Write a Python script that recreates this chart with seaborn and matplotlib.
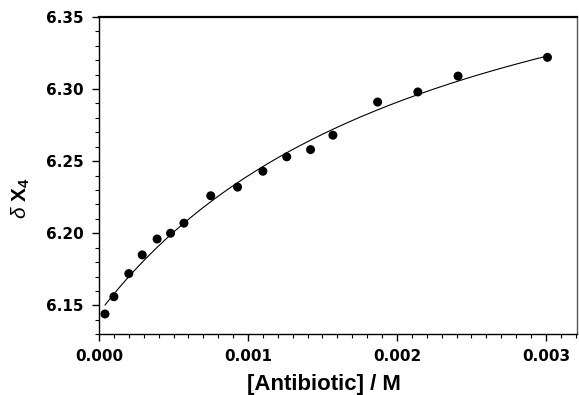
import numpy as np
import pandas as pd
import seaborn as sns
import matplotlib.pyplot as plt
from matplotlib.ticker import MultipleLocator, FormatStrFormatter

sns.set_style("ticks")
plt.rcParams['font.family'] = ['DejaVu Sans']
plt.rcParams['mathtext.fontset'] = 'custom'
plt.rcParams['mathtext.rm'] = 'Liberation Sans'
plt.rcParams['mathtext.bf'] = 'Liberation Sans:bold'
plt.rcParams['mathtext.it'] = 'Liberation Sans:italic'

# ============================================
# DATA
# ============================================
conc = [0.00004, 0.00010, 0.00020, 0.00029, 0.00039, 0.00048, 0.00057,
        0.00075, 0.00093, 0.00110, 0.00126, 0.00142, 0.00157, 0.00187,
        0.00214, 0.00241, 0.00301]
shift = [6.144, 6.156, 6.172, 6.185, 6.196, 6.200, 6.207,
         6.226, 6.232, 6.243, 6.253, 6.258, 6.268, 6.291,
         6.298, 6.309, 6.322]

df = pd.DataFrame({"conc": conc, "shift": shift})

# ============================================
# 1:1 BINDING FIT (grid over Kd, linear lstsq for the rest)
# ============================================
x = np.array(conc)
y = np.array(shift)
best = None
for kd in np.linspace(0.0002, 0.01, 2000):
    A = np.column_stack([np.ones_like(x), x / (kd + x)])
    coef, res, _, _ = np.linalg.lstsq(A, y, rcond=None)
    err = np.sum((A @ coef - y) ** 2)
    if best is None or err < best[0]:
        best = (err, kd, coef)
_, kd, (y0, dmax) = best
xf = np.linspace(x.min(), x.max(), 200)
fit = pd.DataFrame({"conc": xf, "shift": y0 + dmax * xf / (kd + xf)})

# ============================================
# PLOT
# ============================================
fig = plt.figure(figsize=(5.79, 3.95), dpi=100)
ax = fig.add_axes([0.171, 0.154, 0.826, 0.803])

sns.lineplot(data=fit, x="conc", y="shift", color="black", linewidth=0.8, ax=ax)
sns.scatterplot(data=df, x="conc", y="shift", color="black", s=42,
                edgecolor="none", ax=ax, zorder=3)

ax.set_xlim(0, 0.00321)
ax.set_ylim(6.13, 6.35)
ax.xaxis.set_major_locator(MultipleLocator(0.001))
ax.xaxis.set_minor_locator(MultipleLocator(0.0001))
ax.yaxis.set_major_locator(MultipleLocator(0.05))
ax.yaxis.set_minor_locator(MultipleLocator(0.01))
ax.xaxis.set_major_formatter(FormatStrFormatter("%.3f"))
ax.yaxis.set_major_formatter(FormatStrFormatter("%.2f"))

ax.tick_params(which="major", direction="out", length=5, width=1,
               labelsize=11, pad=6, colors="black")
ax.tick_params(which="minor", direction="out", length=3, width=0.8, colors="black")
for lab in ax.get_xticklabels() + ax.get_yticklabels():
    lab.set_fontweight("bold")

for side in ["top", "right", "left", "bottom"]:
    ax.spines[side].set_visible(True)
    ax.spines[side].set_color("black")
    ax.spines[side].set_linewidth(1.0)
ax.spines["top"].set_linewidth(1.6)
ax.spines["right"].set_color("#555555")

ax.set_xlabel("[Antibiotic] / M", family="Liberation Sans", fontweight="bold",
              fontsize=16, color="black")
ax.set_ylabel(r"$\delta\ \mathbf{X}_{\mathbf{4}}$", fontsize=15, color="black")
ax.xaxis.set_label_coords(0.47, -0.125)
ax.yaxis.set_label_coords(-0.14, 0.43)

plt.savefig("out.png", dpi=100)
plt.close()
